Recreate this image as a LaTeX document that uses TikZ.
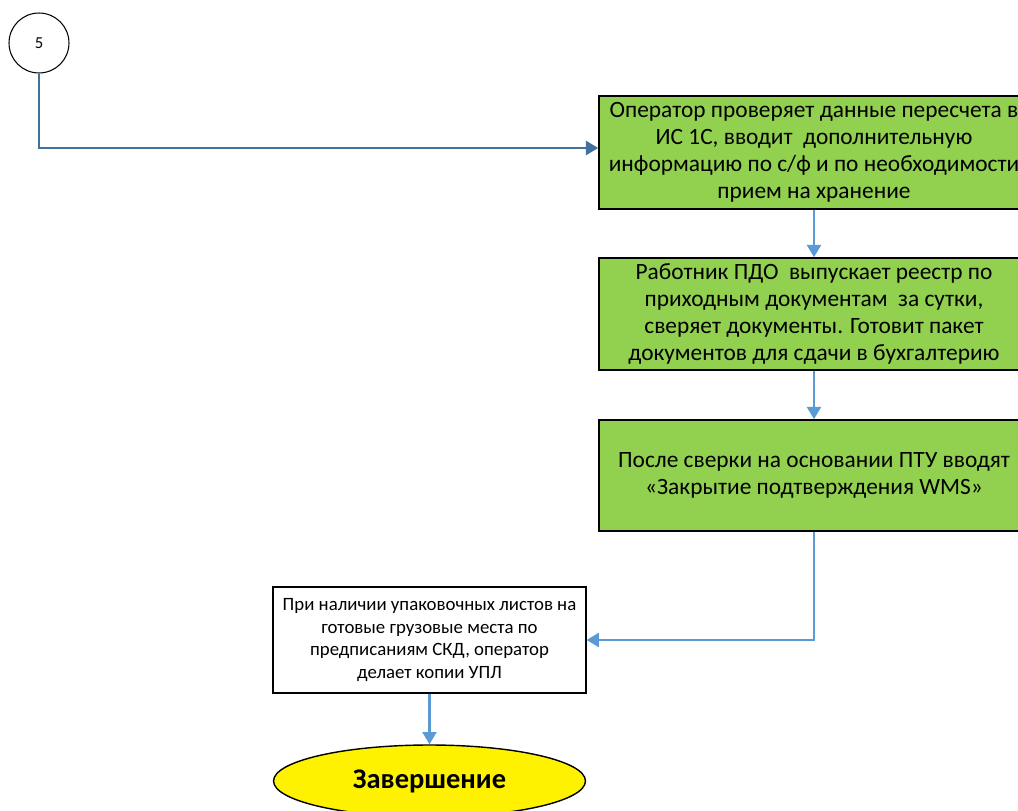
\documentclass[tikz,border=0pt]{standalone}
\usepackage{fontspec}
\setmainfont{Carlito}
\usetikzlibrary{arrows.meta,shapes.geometric}
\definecolor{boxgreen}{HTML}{92D050}
\definecolor{linkblue}{HTML}{5B9BD5}
\definecolor{darkblue}{HTML}{41719C}
\tikzset{
  greenbox/.style={draw=black,line width=0.9pt,fill=boxgreen,minimum width=8.6cm,align=center,inner sep=0pt,font=\fontsize{13.3}{15.4}\selectfont},
  whitebox/.style={draw=black,line width=0.7pt,fill=white,minimum width=6.26cm,minimum height=2.12cm,align=center,inner sep=0pt,font=\fontsize{10.7}{13}\selectfont},
  link/.style={linkblue,line width=1.2pt,-{Triangle[width=8pt,length=7pt]}},
}
\begin{document}
\begin{tikzpicture}[x=0.02cm,y=-0.02cm]
\useasboundingbox (0,0) rectangle (1018,811);
%\draw[step=50,gray,very thin] (0,0) grid (1018,811);
\node[draw=black,circle,line width=0.6pt,minimum size=1.2cm,inner sep=0pt,font=\fontsize{9.5}{11}\selectfont] (five) at (39,43) {5};
\node[greenbox,minimum height=2.26cm] (check) at (814,152.5) {Оператор проверяет данные пересчета в\\ИС 1С, вводит\ \ дополнительную\\информацию по с/ф и по необходимости\\прием на хранение};
\node[greenbox,minimum height=2.24cm] (reg) at (814,314) {Работник ПДО\ \ выпускает реестр по\\приходным документам\ \ за сутки,\\сверяет документы. Готовит пакет\\документов для сдачи в бухгалтерию};
\node[greenbox,minimum height=2.22cm] (wms) at (814,475.5) {После сверки на основании ПТУ вводят\\«Закрытие подтверждения WMS»};
\node[whitebox] (copy) at (429.5,640) {При наличии упаковочных листов на\\готовые грузовые места по\\предписаниям СКД, оператор\\делает копии УПЛ};
\node[draw=black,ellipse,line width=0.8pt,fill=yellow,minimum width=6.24cm,minimum height=1.44cm,inner sep=0pt,font=\fontsize{16.2}{18}\selectfont\bfseries] (fin) at (429.5,781) {Завершение};
\coordinate (bend1) at (39,148);
\coordinate (bend2) at (814,640);
\draw[darkblue,line width=1.4pt,-{Triangle[width=8pt,length=7pt]}] (five.south) -- (bend1) -- (bend1 -| check.west);
\draw[link] (check) -- (reg);
\draw[link] (reg) -- (wms);
\draw[link] (wms.south) -- (bend2) -- (copy.east);
\draw[link] (copy) -- (fin);
\end{tikzpicture}
\end{document}
